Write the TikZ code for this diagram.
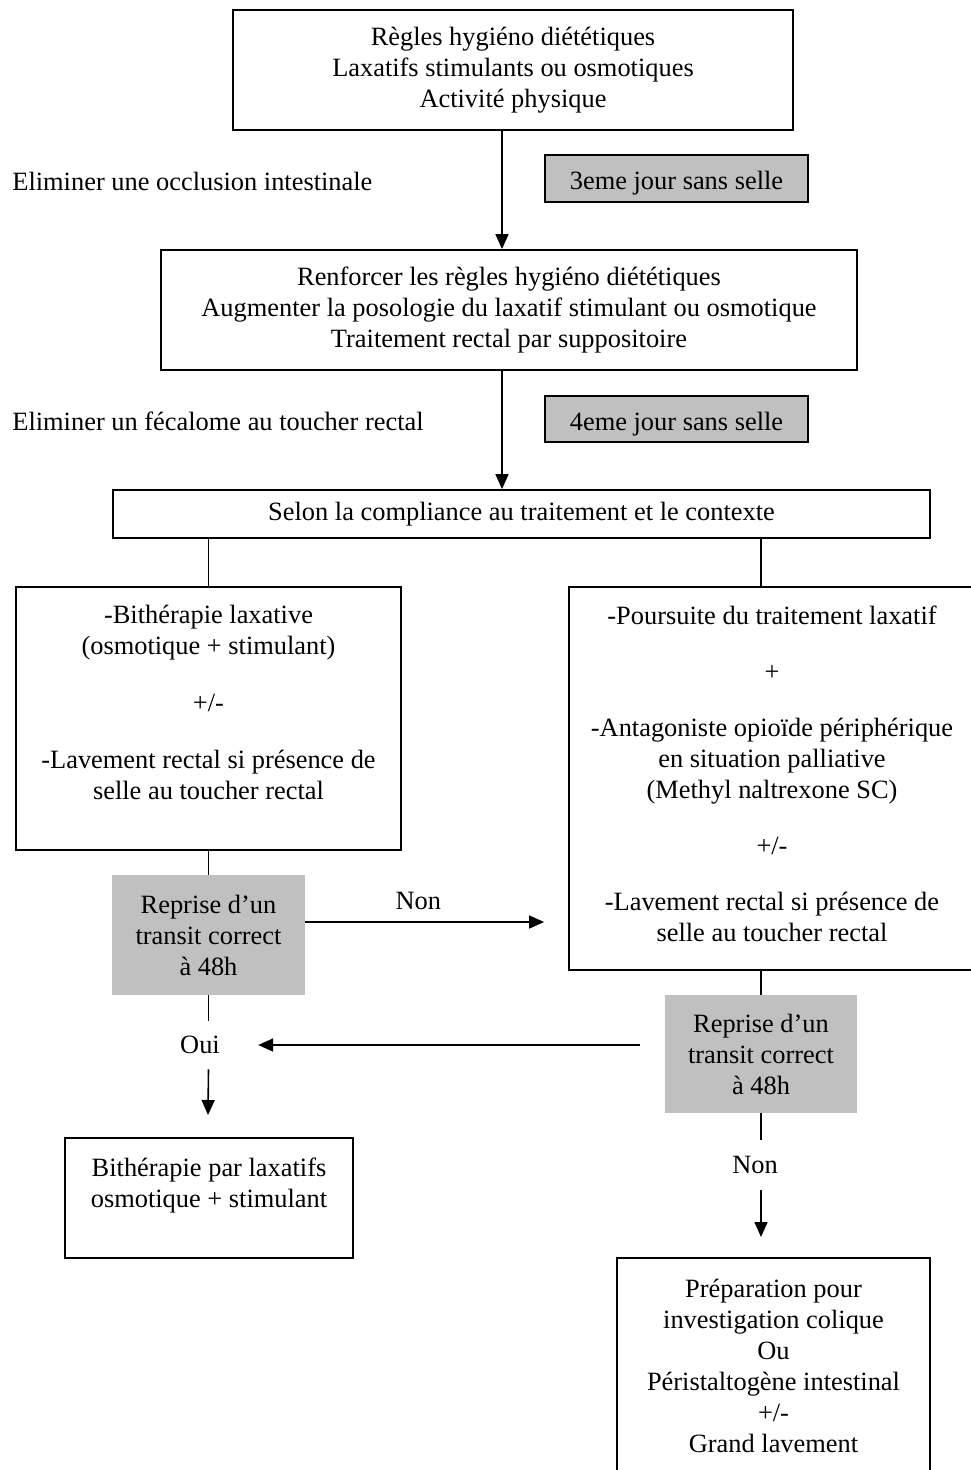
\documentclass[tikz,border=0pt]{standalone}
\usepackage{fontspec}
\setmainfont{Liberation Serif}
\usepackage{tikz}
\usetikzlibrary{arrows.meta}
\definecolor{grisfond}{RGB}{192,192,192}

\begin{document}
\begin{tikzpicture}[x=0.5pt,y=-0.5pt,
	every node/.style={font=\fontsize{13.2}{15.5}\selectfont, inner sep=0pt},
	cadre/.style={draw, line width=0.9pt, align=center},
	gris/.style={fill=grisfond, align=center},
	grisborde/.style={gris, draw, line width=1pt, text height=11.5pt, text depth=0pt},
	trait/.style={line width=0.8pt},
	fleche/.style={trait, -{Triangle[length=7.5pt,width=6.5pt]}}]
\useasboundingbox (0,0) rectangle (970,1470);
%first and second steps
\node[cadre, minimum width=280pt, minimum height=60pt] (regles) at (513,70)
	{Règles hygiéno diététiques\\Laxatifs stimulants ou osmotiques\\Activité physique};
\node[cadre, minimum width=348pt, minimum height=60pt] (renforcer) at (509,310)
	{Renforcer les règles hygiéno diététiques\\Augmenter la posologie du laxatif stimulant ou osmotique\\Traitement rectal par suppositoire};
\node[cadre, minimum width=408.5pt, minimum height=24pt] (selon) at (521.5,514)
	{Selon la compliance au traitement et le contexte};
\node[grisborde, minimum width=131.5pt, minimum height=23.5pt] (jour3) at (676.5,178.5) {3eme jour sans selle};
\node[grisborde, minimum width=131.5pt, minimum height=23pt] (jour4) at (676.5,419) {4eme jour sans selle};
\node[anchor=west] (occlusion) at (12,181) {Eliminer une occlusion intestinale};
\node[anchor=west] (fecalome) at (12,421) {Eliminer un fécalome au toucher rectal};
\coordinate (axe) at (502,0);
\draw[fleche] (regles.south -| axe) -- (renforcer.north -| axe);
\draw[fleche] (renforcer.south -| axe) -- (selon.north -| axe);

%two branches
\node[cadre, minimum width=192.5pt, minimum height=131.5pt] (bitherapie) at (208.5,718.5)
	{-Bithérapie laxative\\(osmotique + stimulant)\\[13pt]+/-\\[13pt]-Lavement rectal si présence de\\selle au toucher rectal\\[1pt]\mbox{}};
\node[cadre, minimum width=203pt, minimum height=191.5pt] (poursuite) at (772,778.5)
	{-Poursuite du traitement laxatif\\[12.5pt]+\\[12.5pt]-Antagoniste opioïde périphérique\\en situation palliative\\(Methyl naltrexone SC)\\[12.5pt]+/-\\[12.5pt]-Lavement rectal si présence de\\selle au toucher rectal\\[-10.5pt]\mbox{}};
\node[gris, minimum width=96.5pt, minimum height=60pt] (repriseG) at (208.5,935)
	{Reprise d’un\\transit correct\\à 48h};
\node[gris, minimum width=96pt, minimum height=59pt] (repriseD) at (761,1054)
	{Reprise d’un\\transit correct\\à 48h};
\draw[trait] (selon.south -| bitherapie) -- (bitherapie.north);
\draw[trait] (selon.south -| repriseD) -- (poursuite.north -| repriseD);
\draw[trait] (bitherapie.south) -- (repriseG.north);
\draw[trait] (poursuite.south -| repriseD) -- (repriseD.north);
\coordinate (nonY) at (0,922);
\draw[fleche, shorten >=12pt] (repriseG.east |- nonY) -- (poursuite.west |- nonY)
	node[pos=0.43, above=5.5pt] (nonA) {Non};

%outcomes
\node[inner xsep=19pt, minimum height=24pt] (oui) at (200,1045) {Oui};
\node[minimum height=25pt] (nonB) at (755,1165) {Non};
\coordinate (finG) at (208,1115);
\coordinate (finD) at (761,1237);
\draw[trait] (repriseG.south) -- (oui.north -| repriseG);
\draw[fleche] (oui.south -| repriseG) -- (finG);
\draw[fleche, shorten <=12.5pt] (repriseD.west |- oui) -- (oui.east);
\draw[trait] (repriseD.south) -- (nonB.north -| repriseD);
\draw[fleche] (nonB.south -| repriseD) -- (finD);
\node[cadre, minimum width=144pt, minimum height=60pt] (bithlax) at (209,1198)
	{Bithérapie par laxatifs\\osmotique + stimulant\\\mbox{}};
\node[cadre, minimum width=156.5pt, minimum height=108pt] (preparation) at (773.5,1366)
	{Préparation pour\\investigation colique\\Ou\\Péristaltogène intestinal\\+/-\\Grand lavement};
\end{tikzpicture}
\end{document}
